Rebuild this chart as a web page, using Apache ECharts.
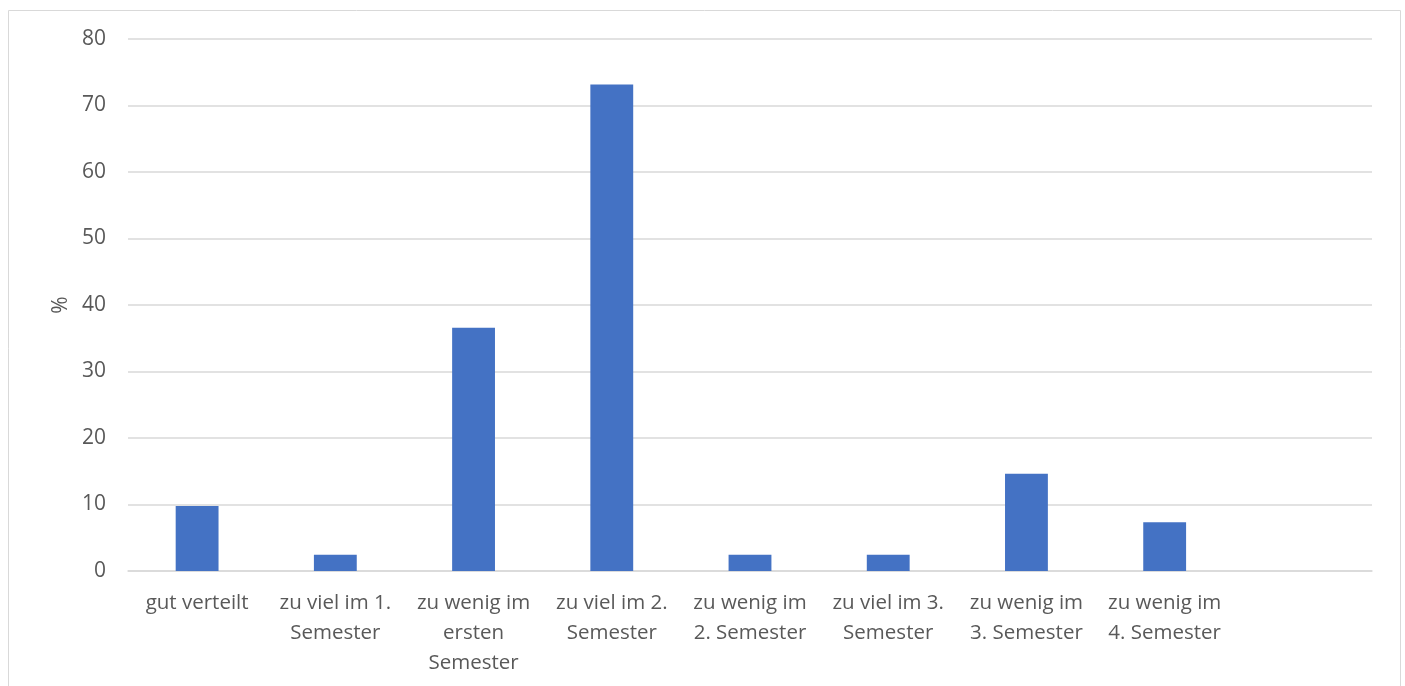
<!DOCTYPE html>
<html>
<head>
<meta charset="utf-8">
<script src="https://cdn.jsdelivr.net/npm/echarts@6/dist/echarts.min.js"></script>
<style>
  html, body { margin: 0; padding: 0; background: #fff; }
  #chart { width: 1405px; height: 686px; }
</style>
</head>
<body>
<div id="chart"></div>
<script>
// Kategorien (letzte Spalte leer, wie im Original)
const categories = [
  'gut verteilt',
  'zu viel im 1.\nSemester',
  'zu wenig im\nersten\nSemester',
  'zu viel im 2.\nSemester',
  'zu wenig im\n2. Semester',
  'zu viel im 3.\nSemester',
  'zu wenig im\n3. Semester',
  'zu wenig im\n4. Semester',
  ''
];
// Anteile in %
const values = [9.76, 2.44, 36.59, 73.17, 2.44, 2.44, 14.63, 7.32, null];
const yTicks = [0, 80, 10]; // min, max, interval

const chart = echarts.init(document.getElementById('chart'));
chart.setOption({
  animation: false,
  textStyle: { fontFamily: 'Open Sans, Liberation Sans, sans-serif' },
  grid: { left: 128, right: 33, top: 39, bottom: 115, containLabel: false },
  graphic: [{
    type: 'rect',
    shape: { x: 8.5, y: 10.5, width: 1392, height: 700 },
    style: { fill: 'none', stroke: '#d9d9d9', lineWidth: 1 },
    silent: true
  }],
  xAxis: {
    type: 'category',
    data: categories,
    axisLine: { lineStyle: { color: '#d9d9d9', width: 1.5 } },
    axisTick: { show: false },
    axisLabel: {
      color: '#595959',
      fontSize: 20.5,
      lineHeight: 30,
      margin: 17,
      interval: 0
    }
  },
  yAxis: {
    type: 'value',
    min: yTicks[0],
    max: yTicks[1],
    interval: yTicks[2],
    name: '%',
    nameLocation: 'middle',
    nameGap: 54,
    nameRotate: 90,
    nameTextStyle: { color: '#595959', fontSize: 21 },
    axisLine: { show: false },
    axisTick: { show: false },
    axisLabel: { color: '#595959', fontSize: 21, margin: 22 },
    splitLine: { lineStyle: { color: '#d9d9d9', width: 1.5 } }
  },
  series: [{
    type: 'bar',
    data: values,
    barCategoryGap: '69%',
    itemStyle: { color: '#4472c4' }
  }]
});
</script>
</body>
</html>
